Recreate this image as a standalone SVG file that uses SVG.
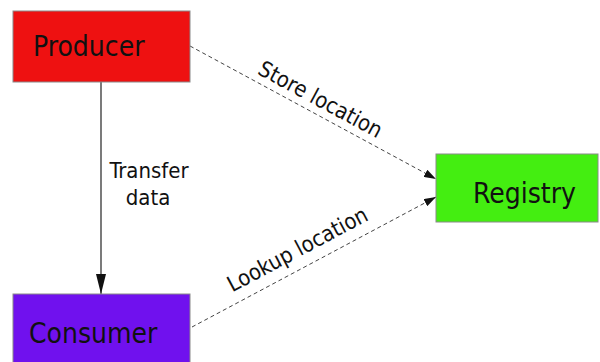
<svg xmlns="http://www.w3.org/2000/svg" width="600" height="362" viewBox="0 0 600 362">
<style>
.box{stroke:#8a8a8a;stroke-width:1}
.lbl{font-family:"DejaVu Sans Condensed","DejaVu Sans",sans-serif;font-size:28px;fill:#111}
.elbl{font-family:"DejaVu Sans Condensed","DejaVu Sans",sans-serif;font-size:22px;fill:#111}
.dash{stroke:#444;stroke-width:1;stroke-dasharray:4 3;fill:none}
.solid{stroke:#222;stroke-width:1.2;fill:none}
</style>
<defs>
<marker id="ah" viewBox="0 0 12 8" refX="12" refY="4" markerWidth="12" markerHeight="8" markerUnits="userSpaceOnUse" orient="auto">
<path d="M0,0 L12,4 L0,8 z" fill="#111"/>
</marker>
<marker id="ahBig" viewBox="0 0 20 10" refX="20" refY="5" markerWidth="20" markerHeight="10" markerUnits="userSpaceOnUse" orient="auto">
<path d="M0,0 L20,5 L0,10 z" fill="#111"/>
</marker>
</defs>
<rect width="600" height="362" fill="#fff"/>
<g id="connectors">
<line class="solid" x1="101" y1="82" x2="101" y2="294" marker-end="url(#ahBig)"/>
<line class="dash" x1="190" y1="46" x2="436" y2="179" marker-end="url(#ah)"/>
<line class="dash" x1="192" y1="327" x2="436" y2="197" marker-end="url(#ah)"/>
<text class="elbl" x="149" y="178" text-anchor="middle">Transfer</text>
<text class="elbl" x="148" y="205" text-anchor="middle">data</text>
<text class="elbl" text-anchor="middle" transform="translate(317,106) rotate(28.2)">Store location</text>
<text class="elbl" text-anchor="middle" transform="translate(301,256) rotate(-28)">Lookup location</text>
</g>
<g id="producer">
<rect class="box" x="13" y="11" width="177" height="71" fill="#ee1111"/>
<text class="lbl" x="33" y="56">Producer</text>
</g>
<g id="registry">
<rect class="box" x="436" y="154" width="162" height="68" fill="#44ee11"/>
<text class="lbl" x="473" y="203">Registry</text>
</g>
<g id="consumer">
<rect class="box" x="13" y="294" width="177" height="80" fill="#7011ee"/>
<text class="lbl" x="29" y="343">Consumer</text>
</g>
</svg>
